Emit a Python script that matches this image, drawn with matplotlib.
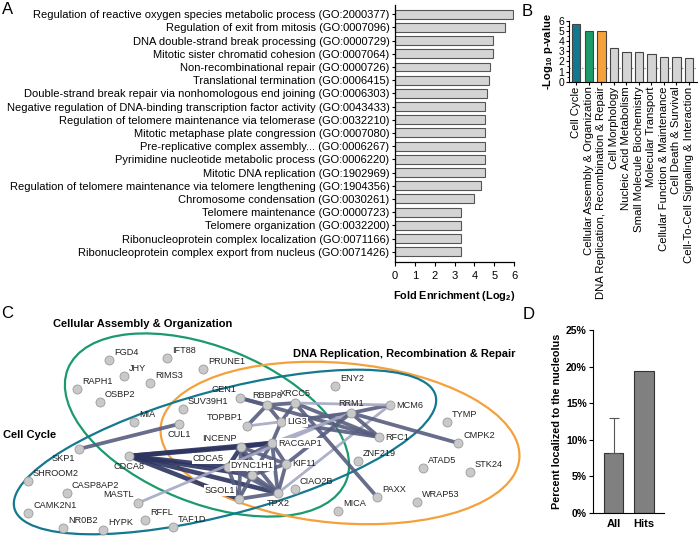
"""Enrichment bars, category p-values, interaction network and nucleolus share."""

import matplotlib
matplotlib.use("Agg")
import matplotlib.pyplot as plt
from matplotlib.patches import Ellipse

plt.rcParams["font.family"] = ["Liberation Sans", "DejaVu Sans"]
plt.rcParams["mathtext.fontset"] = "custom"
plt.rcParams["mathtext.rm"] = "Liberation Sans"
plt.rcParams["mathtext.bf"] = "Liberation Sans:bold"
plt.rcParams["mathtext.default"] = "bf"

# --- panel A: GO terms -------------------------------------------------------
go_terms = [
    "Regulation of reactive oxygen species metabolic process (GO:2000377)",
    "Regulation of exit from mitosis (GO:0007096)",
    "DNA double-strand break processing (GO:0000729)",
    "Mitotic sister chromatid cohesion (GO:0007064)",
    "Non-recombinational repair (GO:0000726)",
    "Translational termination (GO:0006415)",
    "Double-strand break repair via nonhomologous end joining (GO:0006303)",
    "Negative regulation of DNA-binding transcription factor activity (GO:0043433)",
    "Regulation of telomere maintenance via telomerase (GO:0032210)",
    "Mitotic metaphase plate congression (GO:0007080)",
    "Pre-replicative complex assembly... (GO:0006267)",
    "Pyrimidine nucleotide metabolic process (GO:0006220)",
    "Mitotic DNA replication (GO:1902969)",
    "Regulation of telomere maintenance via telomere lengthening (GO:1904356)",
    "Chromosome condensation (GO:0030261)",
    "Telomere maintenance (GO:0000723)",
    "Telomere organization (GO:0032200)",
    "Ribonucleoprotein complex localization (GO:0071166)",
    "Ribonucleoprotein complex export from nucleus (GO:0071426)",
]
fold_enrichment = [5.95, 5.53, 4.94, 4.94, 4.81, 4.74, 4.64, 4.52, 4.52, 4.52,
                   4.52, 4.52, 4.52, 4.36, 3.99, 3.32, 3.32, 3.32, 3.32]

# --- panel B: IPA categories -------------------------------------------------
categories = [
    "Cell Cycle",
    "Cellular Assembly & Organization",
    "DNA Replication, Recombination & Repair",
    "Cell Morphology",
    "Nucleic Acid Metabolism",
    "Small Molecule Biochemistry",
    "Molecular Transport",
    "Cellular Function & Maintenance",
    "Cell Death & Survival",
    "Cell-To-Cell Signaling & Interaction",
]
neg_log_p = [5.7, 4.95, 4.95, 3.3, 2.92, 2.92, 2.72, 2.43, 2.43, 2.3]
p_threshold = 1.3

# --- panel C: network --------------------------------------------------------
node_names = [
    "FGD4", "IFT88", "JHY", "PRUNE1", "RAPH1", "RIMS3", "OSBP2", "MIA",
    "SUV39H1", "GEN1", "RBBP8", "XRCC5", "TOPBP1", "LIG3", "CUL1", "INCENP",
    "RACGAP1", "SKP1", "CDCA8", "CDCA5", "DYNC1H1", "KIF11", "SGOL1", "TPX2",
    "CIAO2B", "SHROOM2", "CASP8AP2", "MASTL", "CAMK2N1", "NR0B2", "HYPK",
    "RFFL", "TAF1D", "ENY2", "RRM1", "MCM6", "RFC1", "TYMP", "CMPK2",
    "ZNF219", "ATAD5", "STK24", "PAXX", "WRAP53", "MICA",
]
node_x = [109, 167, 124, 203, 77, 150, 100, 134,
          183, 240, 267, 295, 247, 281, 179, 241,
          272, 79, 129, 228, 252, 286, 239, 278,
          295, 28, 67, 138, 28, 63, 103,
          145, 173, 335, 351, 390, 379, 447, 458,
          358, 423, 470, 377, 417, 338]
node_y = [360, 358, 376, 369, 389, 383, 402, 422,
          409, 398, 405, 403, 426, 422, 424, 447,
          443, 449, 456, 467, 475, 464, 499, 493,
          489, 481, 493, 503, 513, 528, 530,
          520, 527, 386, 413, 405, 437, 422, 443,
          461, 468, 472, 497, 502, 511]

edge_src = ["SKP1", "CDCA8", "CDCA8", "CDCA8", "CDCA8", "CDCA8", "CDCA8",
            "INCENP", "INCENP", "INCENP", "INCENP", "INCENP", "INCENP",
            "RACGAP1", "RACGAP1", "RACGAP1", "RACGAP1", "RACGAP1",
            "CDCA5", "CDCA5", "CDCA5", "DYNC1H1", "DYNC1H1", "DYNC1H1",
            "KIF11", "SGOL1", "MASTL", "TPX2", "GEN1", "GEN1", "RBBP8",
            "RBBP8", "RBBP8", "XRCC5", "XRCC5", "XRCC5", "TOPBP1", "LIG3",
            "LIG3", "RRM1", "RRM1", "RRM1", "RACGAP1", "KIF11", "XRCC5"]
edge_dst = ["CUL1", "INCENP", "RACGAP1", "CDCA5", "DYNC1H1", "SGOL1", "TPX2",
            "RACGAP1", "CDCA5", "DYNC1H1", "SGOL1", "TPX2", "KIF11",
            "KIF11", "DYNC1H1", "TPX2", "CDCA5", "LIG3",
            "SGOL1", "DYNC1H1", "TPX2", "TPX2", "SGOL1", "KIF11",
            "TPX2", "TPX2", "RRM1", "MCM6", "RBBP8", "RFC1", "XRCC5",
            "TOPBP1", "LIG3", "LIG3", "RFC1", "PAXX", "RRM1", "RRM1",
            "RFC1", "MCM6", "CMPK2", "RFC1", "RRM1", "RRM1", "MCM6"]
edge_score = [2, 3, 3, 3, 3, 3, 3,
              3, 3, 3, 2, 2, 2,
              2, 2, 2, 2, 2,
              2, 2, 2, 2, 2, 2,
              2, 2, 1, 1, 2, 2, 2,
              2, 2, 2, 2, 2, 1, 2,
              2, 2, 2, 2, 1, 2, 1]

# --- panel D -----------------------------------------------------------------
groups = ["All", "Hits"]
pct_nucleolus = [8.2, 19.4]
pct_err_up = [4.8, 0]


fig = plt.figure(figsize=(7.0, 5.42), dpi=100)
W, H = 700.0, 542.0


def px_axes(left, top, right, bottom):
    return fig.add_axes([left / W, 1 - bottom / H, (right - left) / W, (bottom - top) / H])


# overlay in pixel coordinates for the network and panel letters
axc = fig.add_axes([0, 0, 1, 1])
axc.set_xlim(0, W)
axc.set_ylim(H, 0)
axc.axis("off")

for letter, lx, ly in [("A", 2, 2), ("B", 522, 4), ("C", 1, 306), ("D", 523, 307)]:
    axc.text(lx, ly, letter, fontsize=12, ha="left", va="top")

ellipses = [
    ((207, 425), 300, 156, 22, "#1b9a6c"),   # cellular assembly
    ((340, 443), 360, 160, 5, "#f4a13b"),    # DNA replication
    ((225, 452), 436, 124, -15, "#14788f"),  # cell cycle
]
for (cx, cy), w, h, ang, col in ellipses:
    axc.add_patch(Ellipse((cx, cy), w, h, angle=ang, fill=False,
                          edgecolor=col, lw=1.6, zorder=1))

axc.text(143, 324, "Cellular Assembly & Organization", fontsize=8,
         fontweight="bold", ha="center", va="center")
axc.text(3, 435, "Cell Cycle", fontsize=8, fontweight="bold", ha="left", va="center")
axc.text(293, 354, "DNA Replication, Recombination & Repair", fontsize=8,
         fontweight="bold", ha="left", va="center")

pos = {n: (x, y) for n, x, y in zip(node_names, node_x, node_y)}
edge_style = {1: (2.0, "#a4a8c2"), 2: (2.7, "#565d7e"), 3: (3.3, "#2c3460")}
for a, b, s in zip(edge_src, edge_dst, edge_score):
    lw, col = edge_style[s]
    axc.plot([pos[a][0], pos[b][0]], [pos[a][1], pos[b][1]], color=col, lw=lw,
             alpha=0.9, solid_capstyle="butt", zorder=2)

axc.scatter(node_x, node_y, s=42, color="#c9c9c9", edgecolors="#9b9b9b",
            linewidths=0.6, zorder=3)

# label placement: (dx, dy, ha, va)
label_place = {
    "ur": (5, -3, "left", "bottom"),
    "r": (6, 0, "left", "center"),
    "u": (0, -5, "center", "bottom"),
    "ul": (-4, -4, "right", "bottom"),
    "l": (-6, -2, "right", "center"),
    "d": (0, 6, "center", "top"),
    "dl": (-4, 5, "right", "top"),
}
node_label_pos = {
    "GEN1": "ul", "RBBP8": "u", "XRCC5": "u", "TOPBP1": "ul", "LIG3": "r",
    "CUL1": "d", "INCENP": "ul", "RACGAP1": "r", "SKP1": "dl", "CDCA8": "d",
    "CDCA5": "ul", "DYNC1H1": "u", "KIF11": "r", "SGOL1": "ul", "TPX2": "d",
    "MASTL": "ul", "RRM1": "u", "MCM6": "r", "RFC1": "r",
}
boxed = {"LIG3", "RACGAP1", "CDCA5", "DYNC1H1", "SGOL1"}
for n, x, y in zip(node_names, node_x, node_y):
    dx, dy, ha, va = label_place[node_label_pos.get(n, "ur")]
    bbox = dict(facecolor="white", edgecolor="none", pad=0.6) if n in boxed else None
    axc.text(x + dx, y + dy, n, fontsize=6.6, color="#222222", ha=ha, va=va,
             bbox=bbox, zorder=4)

# --- A -----------------------------------------------------------------------
axa = px_axes(395, 5, 514, 262)
ypos = list(range(len(go_terms)))
axa.barh(ypos, fold_enrichment, height=0.68, color="#d4d4d4",
         edgecolor="#555555", linewidth=0.8)
axa.set_ylim(len(go_terms) - 1 + 0.78, -0.7)
axa.set_xlim(0, 6)
axa.set_xticks(range(7))
axa.set_yticks(ypos)
axa.set_yticklabels(go_terms, fontsize=8)
axa.tick_params(axis="x", labelsize=8, length=3, width=0.8)
axa.tick_params(axis="y", length=2.5, width=0.8, pad=1.5)
axa.set_xlabel("Fold Enrichment (Log$_2$)", fontsize=7.8, fontweight="bold", labelpad=6)
for side in ("top", "right"):
    axa.spines[side].set_visible(False)
for side in ("left", "bottom"):
    axa.spines[side].set_linewidth(0.9)

# --- B -----------------------------------------------------------------------
axb = px_axes(569, 20.7, 697, 81.7)
bar_cols = ["#13788f", "#1b9a6c", "#f7a13a"] + ["#d4d4d4"] * (len(categories) - 3)
xb = list(range(len(categories)))
axb.bar(xb, neg_log_p, width=0.67, color=bar_cols, edgecolor="#444444", linewidth=0.8)
axb.axhline(p_threshold, color="#888888", ls=(0, (1, 1.5)), lw=0.9, zorder=0)
axb.set_xlim(-0.58, len(categories) - 1 + 0.64)
axb.set_ylim(0, 6)
axb.set_yticks(range(7))
axb.set_yticks([v + 0.5 for v in range(6)], minor=True)
axb.set_xticks(xb)
axb.set_xticklabels(categories, rotation=90, fontsize=8.2)
axb.tick_params(axis="y", labelsize=7.5, length=2.5, width=0.8, pad=1)
axb.tick_params(axis="y", which="minor", length=1.5, width=0.6)
axb.tick_params(axis="x", length=2.5, width=0.8, pad=1)
axb.set_ylabel("-Log$_{10}$ p-value", fontsize=8, fontweight="bold", labelpad=2)
for side in ("top", "right"):
    axb.spines[side].set_visible(False)

# --- D -----------------------------------------------------------------------
axd = px_axes(593, 330, 664, 513)
xd = [0, 1]
axd.bar(xd, pct_nucleolus, width=0.64, color="#808080", edgecolor="#333333", linewidth=0.8)
axd.errorbar(xd[0], pct_nucleolus[0], yerr=[[0], [pct_err_up[0]]], fmt="none",
             ecolor="#555555", elinewidth=0.8, capsize=3.5, capthick=0.8)
axd.set_xlim(-0.68, 1.65)
axd.set_ylim(0, 25)
axd.set_yticks(range(0, 26, 5))
axd.set_yticklabels([f"{v}%" for v in range(0, 26, 5)], fontsize=7.5, fontweight="bold")
axd.set_xticks(xd)
axd.set_xticklabels(groups, fontsize=8, fontweight="bold")
axd.tick_params(axis="y", length=3, width=0.8, pad=1.5)
axd.tick_params(axis="x", length=0, pad=4)
axd.set_ylabel("Percent localized to the nucleolus", fontsize=7.8, fontweight="bold", labelpad=3)
for side in ("top", "right"):
    axd.spines[side].set_visible(False)

fig.savefig("out.png", dpi=100)
